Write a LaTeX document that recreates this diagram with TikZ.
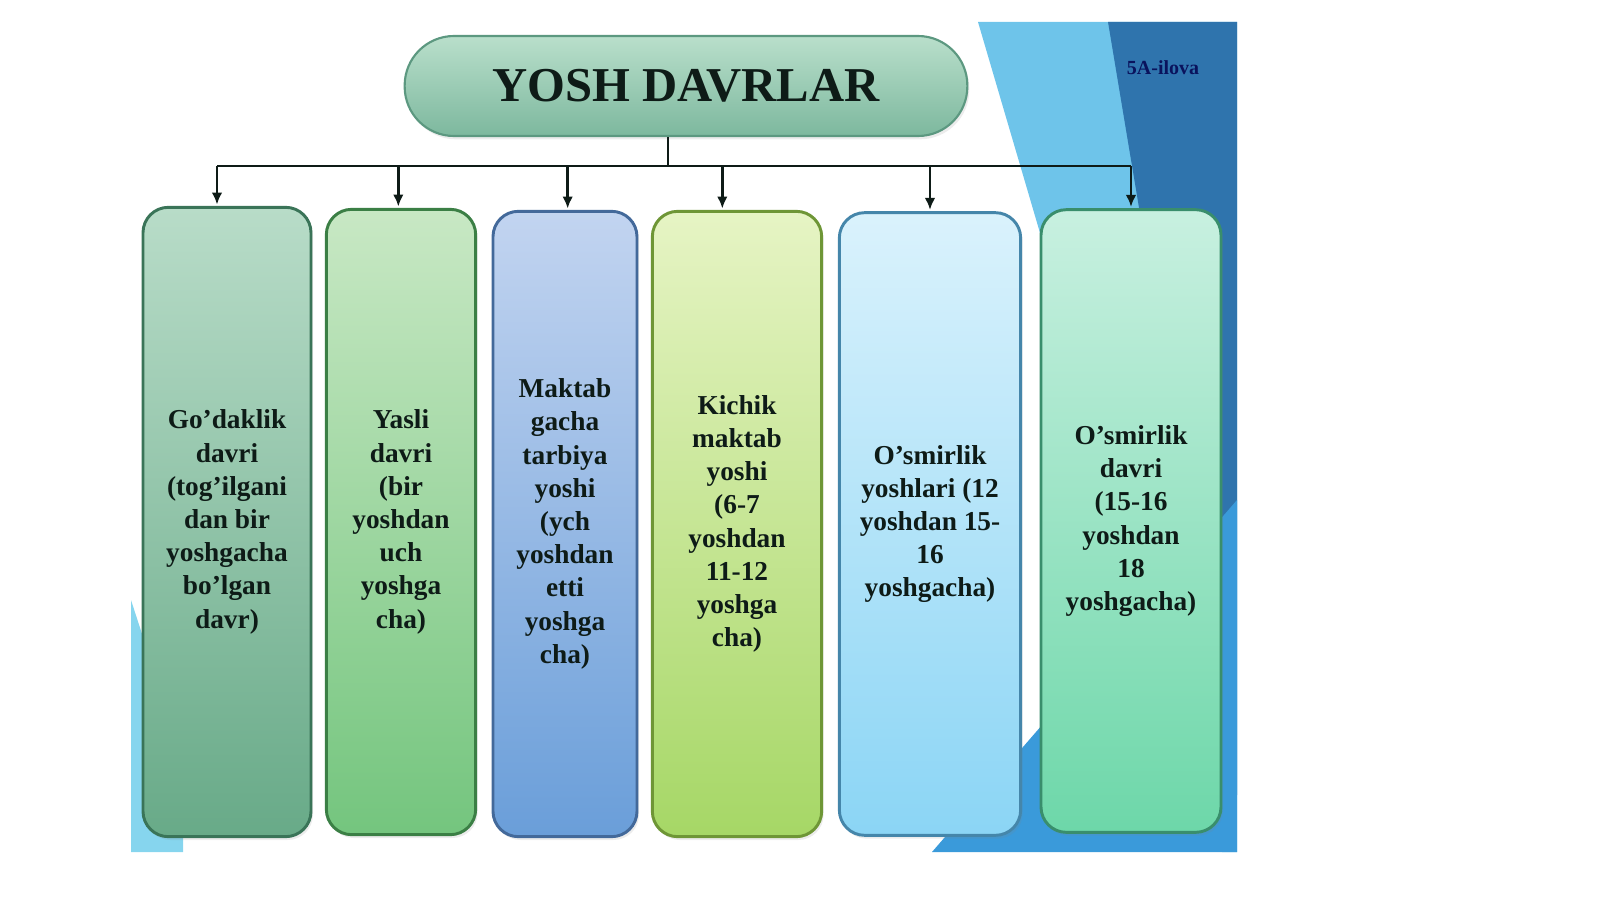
\documentclass[tikz,border=0pt]{standalone}
\usepackage{fontspec}
\setmainfont{Liberation Serif}
\usetikzlibrary{arrows.meta,shadows}

\definecolor{inkdark}{HTML}{0E1B17}
\definecolor{slidecyan}{HTML}{86D5EE}
\definecolor{slidelight}{HTML}{6EC4EA}
\definecolor{slidedark}{HTML}{2F74AD}
\definecolor{slidemid}{HTML}{3A9ADA}
\definecolor{titletop}{HTML}{B9DFCB}
\definecolor{titlebot}{HTML}{7DB89E}
\definecolor{titleline}{HTML}{5C9880}
\definecolor{onetop}{HTML}{B8DCC8}
\definecolor{onemid}{HTML}{7CB898}
\definecolor{onebot}{HTML}{68AA88}
\definecolor{oneline}{HTML}{3A7458}
\definecolor{twotop}{HTML}{C8E8C4}
\definecolor{twomid}{HTML}{88CF8C}
\definecolor{twobot}{HTML}{74C57E}
\definecolor{twoline}{HTML}{3B7F45}
\definecolor{threetop}{HTML}{C2D4F0}
\definecolor{threemid}{HTML}{88AFE0}
\definecolor{threebot}{HTML}{6A9ED9}
\definecolor{threeline}{HTML}{43699A}
\definecolor{fourtop}{HTML}{E6F4C4}
\definecolor{fourmid}{HTML}{B8E07E}
\definecolor{fourbot}{HTML}{A6D766}
\definecolor{fourline}{HTML}{6E9636}
\definecolor{fivetop}{HTML}{DAF2FC}
\definecolor{fivemid}{HTML}{A6DFF8}
\definecolor{fivebot}{HTML}{8BD5F5}
\definecolor{fiveline}{HTML}{4586AA}
\definecolor{sixtop}{HTML}{C8F0E0}
\definecolor{sixmid}{HTML}{8FE2C1}
\definecolor{sixbot}{HTML}{6DD7A9}
\definecolor{sixline}{HTML}{398E6C}

\tikzset{
  period/.style={draw, line width=2.2pt, rounded corners=19pt, align=center,
    inner sep=0pt, text=inkdark, font=\bfseries\fontsize{20.5}{24.9}\selectfont,
    drop shadow={opacity=0.15, shadow xshift=1.5pt, shadow yshift=-2.5pt}},
  heading/.style={draw=titleline, line width=1.6pt, rounded corners=37pt, inner sep=0pt,
    minimum width=422pt, minimum height=75pt, text=inkdark,
    top color=titletop, bottom color=titlebot,
    font=\bfseries\fontsize{36.5}{40}\selectfont,
    drop shadow={opacity=0.15, shadow xshift=1.5pt, shadow yshift=-2.5pt}},
  link/.style={draw=inkdark, line width=1.8pt},
}

\begin{document}
\begin{tikzpicture}[x=0.75pt,y=-0.75pt]
\useasboundingbox (0,0) rectangle (1600,899);

% slide background
\fill[slidecyan] (131,600) -- (183,760) -- (183,852) -- (131,852) -- cycle;
\fill[slidelight] (978,22) -- (1237,22) -- (1237,852) -- (1222,852) -- cycle;
\fill[slidedark] (1108,22) -- (1237,22) -- (1237,795) -- cycle;
\fill[slidemid] (932,852) -- (1237,500) -- (1237,852) -- cycle;

\node[font=\bfseries\fontsize{15}{18}\selectfont, text=inkdark!70!blue] (tag) at (1163,68) {5A-ilova};

% title
\node[heading] (title) at (686,86) {YOSH DAVRLAR};

% periods
\node[period, minimum width=126pt, minimum height=472pt, draw=oneline,
  top color=onetop, middle color=onemid, bottom color=onebot]
  (b1) at (227,522) {Go’daklik\\davri\\(tog’ilgani\\dan bir\\yoshgacha\\bo’lgan\\davr)};
\node[period, minimum width=112pt, minimum height=469pt, draw=twoline,
  top color=twotop, middle color=twomid, bottom color=twobot]
  (b2) at (401,522) {Yasli\\davri\\(bir\\yoshdan\\uch\\yoshga\\cha)};
\node[period, minimum width=108pt, minimum height=469pt, draw=threeline,
  top color=threetop, middle color=threemid, bottom color=threebot]
  (b3) at (565,524) {Maktab\\gacha\\tarbiya\\yoshi\\(ych\\yoshdan\\etti\\yoshga\\cha)};
\node[period, minimum width=127pt, minimum height=469pt, draw=fourline,
  top color=fourtop, middle color=fourmid, bottom color=fourbot]
  (b4) at (737,524) {Kichik\\maktab\\yoshi\\(6-7\\yoshdan\\11-12\\yoshga\\cha)};
\node[period, minimum width=136pt, minimum height=467pt, draw=fiveline,
  top color=fivetop, middle color=fivemid, bottom color=fivebot]
  (b5) at (930,524) {O’smirlik\\yoshlari (12\\yoshdan 15-\\16\\yoshgacha)};
\node[period, minimum width=135pt, minimum height=467pt, draw=sixline,
  top color=sixtop, middle color=sixmid, bottom color=sixbot]
  (b6) at (1131,521) {O’smirlik\\davri\\(15-16\\yoshdan\\18\\yoshgacha)};

% connectors
\coordinate (bus) at (668,166);
\draw[link] (title.south -| bus) -- (bus);
\coordinate (a1) at ([xshift=-7.5pt]b1.north);
\coordinate (a2) at ([xshift=-2pt]b2.north);
\coordinate (a3) at ([xshift=2pt]b3.north);
\coordinate (a4) at ([xshift=-11pt]b4.north);
\coordinate (a5) at (b5.north);
\coordinate (a6) at (b6.north);
\draw[link] (a1 |- bus) -- (a6 |- bus);
\foreach \a in {a1,a2,a3,a4,a5,a6}
  \draw[link, -{Latex[length=9pt,width=8pt]}] (\a |- bus) -- ([yshift=1pt]\a);

\end{tikzpicture}
\end{document}
